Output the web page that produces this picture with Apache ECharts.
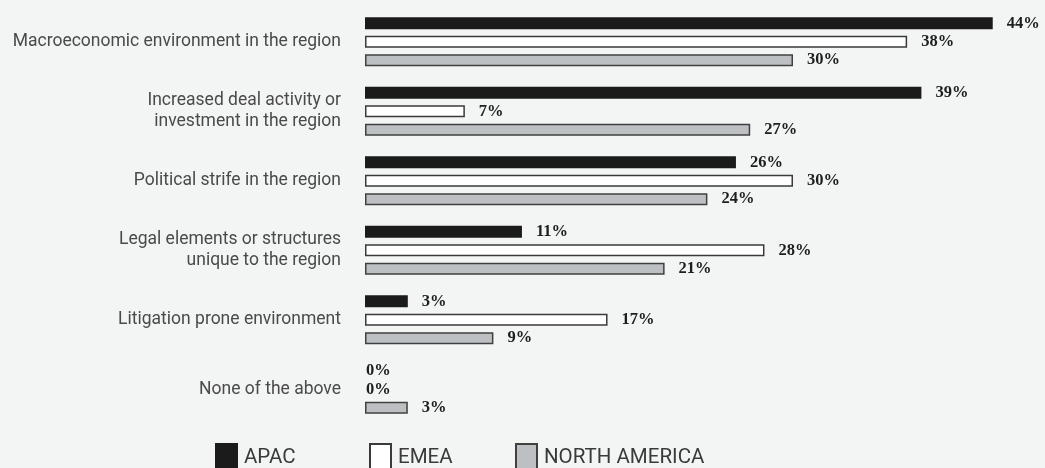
<!DOCTYPE html>
<html>
<head>
<meta charset="utf-8">
<script src="https://cdn.jsdelivr.net/npm/echarts@6/dist/echarts.min.js"></script>
<style>
html,body{margin:0;padding:0;background:#f3f4f4;}
#chart{width:1045px;height:468px;}
</style>
</head>
<body>
<div id="chart"></div>
<script>
var categories = [
  "Macroeconomic environment in the region",
  "Increased deal activity or\ninvestment in the region",
  "Political strife in the region",
  "Legal elements or structures\nunique to the region",
  "Litigation prone environment",
  "None of the above"
];
var seriesNames = ["APAC", "EMEA", "NORTH AMERICA"];
var apac = [44, 39, 26, 11, 3, 0];
var emea = [38, 7, 30, 28, 17, 0];
var northAmerica = [30, 27, 24, 21, 9, 3];

var fills = ["#1b1b1b", "#ffffff", "#bcc0c3"];
var borders = ["#1b1b1b", "#3a3a3a", "#404040"];

function toData(arr) {
  return arr.map(function (v) {
    if (v === 0) {
      return { value: v, itemStyle: { borderWidth: 0 }, label: { distance: 1 } };
    }
    return v;
  });
}

var chart = echarts.init(document.getElementById('chart'));
var legendLefts = [215, 369, 515];
var option = {
  backgroundColor: '#f3f4f4',
  animation: false,
  grid: { left: 365, right: 38, top: 7, bottom: 44, containLabel: false, outerBoundsMode: 'none' },
  xAxis: {
    type: 'value', min: 0, max: 45,
    show: false, splitLine: { show: false }
  },
  yAxis: {
    type: 'category', data: categories, inverse: true,
    axisLine: { show: false }, axisTick: { show: false }, splitLine: { show: false },
    axisLabel: {
      margin: 24, fontFamily: 'Roboto', fontSize: 17.5, color: '#4a4a4a',
      lineHeight: 21, align: 'right'
    }
  },
  legend: seriesNames.map(function (n, i) {
    return {
      data: [n], left: legendLefts[i], top: 443, orient: 'horizontal', padding: 0,
      icon: 'rect', itemWidth: 21, itemHeight: 28, itemGap: 0,
      textStyle: { fontFamily: 'Roboto', fontSize: 20.5, color: '#3a3a3a', padding: [2, 0, 0, 2] },
      selectedMode: false
    };
  }),
  series: [apac, emea, northAmerica].map(function (arr, i) {
    return {
      name: seriesNames[i], type: 'bar', data: toData(arr),
      barWidth: 12, barGap: '54%',
      itemStyle: { color: fills[i], borderColor: borders[i], borderWidth: 1.5 },
      label: {
        show: true, position: 'right', distance: 14, formatter: '{c}%',
        fontFamily: '"Liberation Serif", serif', fontWeight: 'bold', fontSize: 16.5, color: '#1e1e1e'
      }
    };
  })
};
chart.setOption(option);
</script>
</body>
</html>
